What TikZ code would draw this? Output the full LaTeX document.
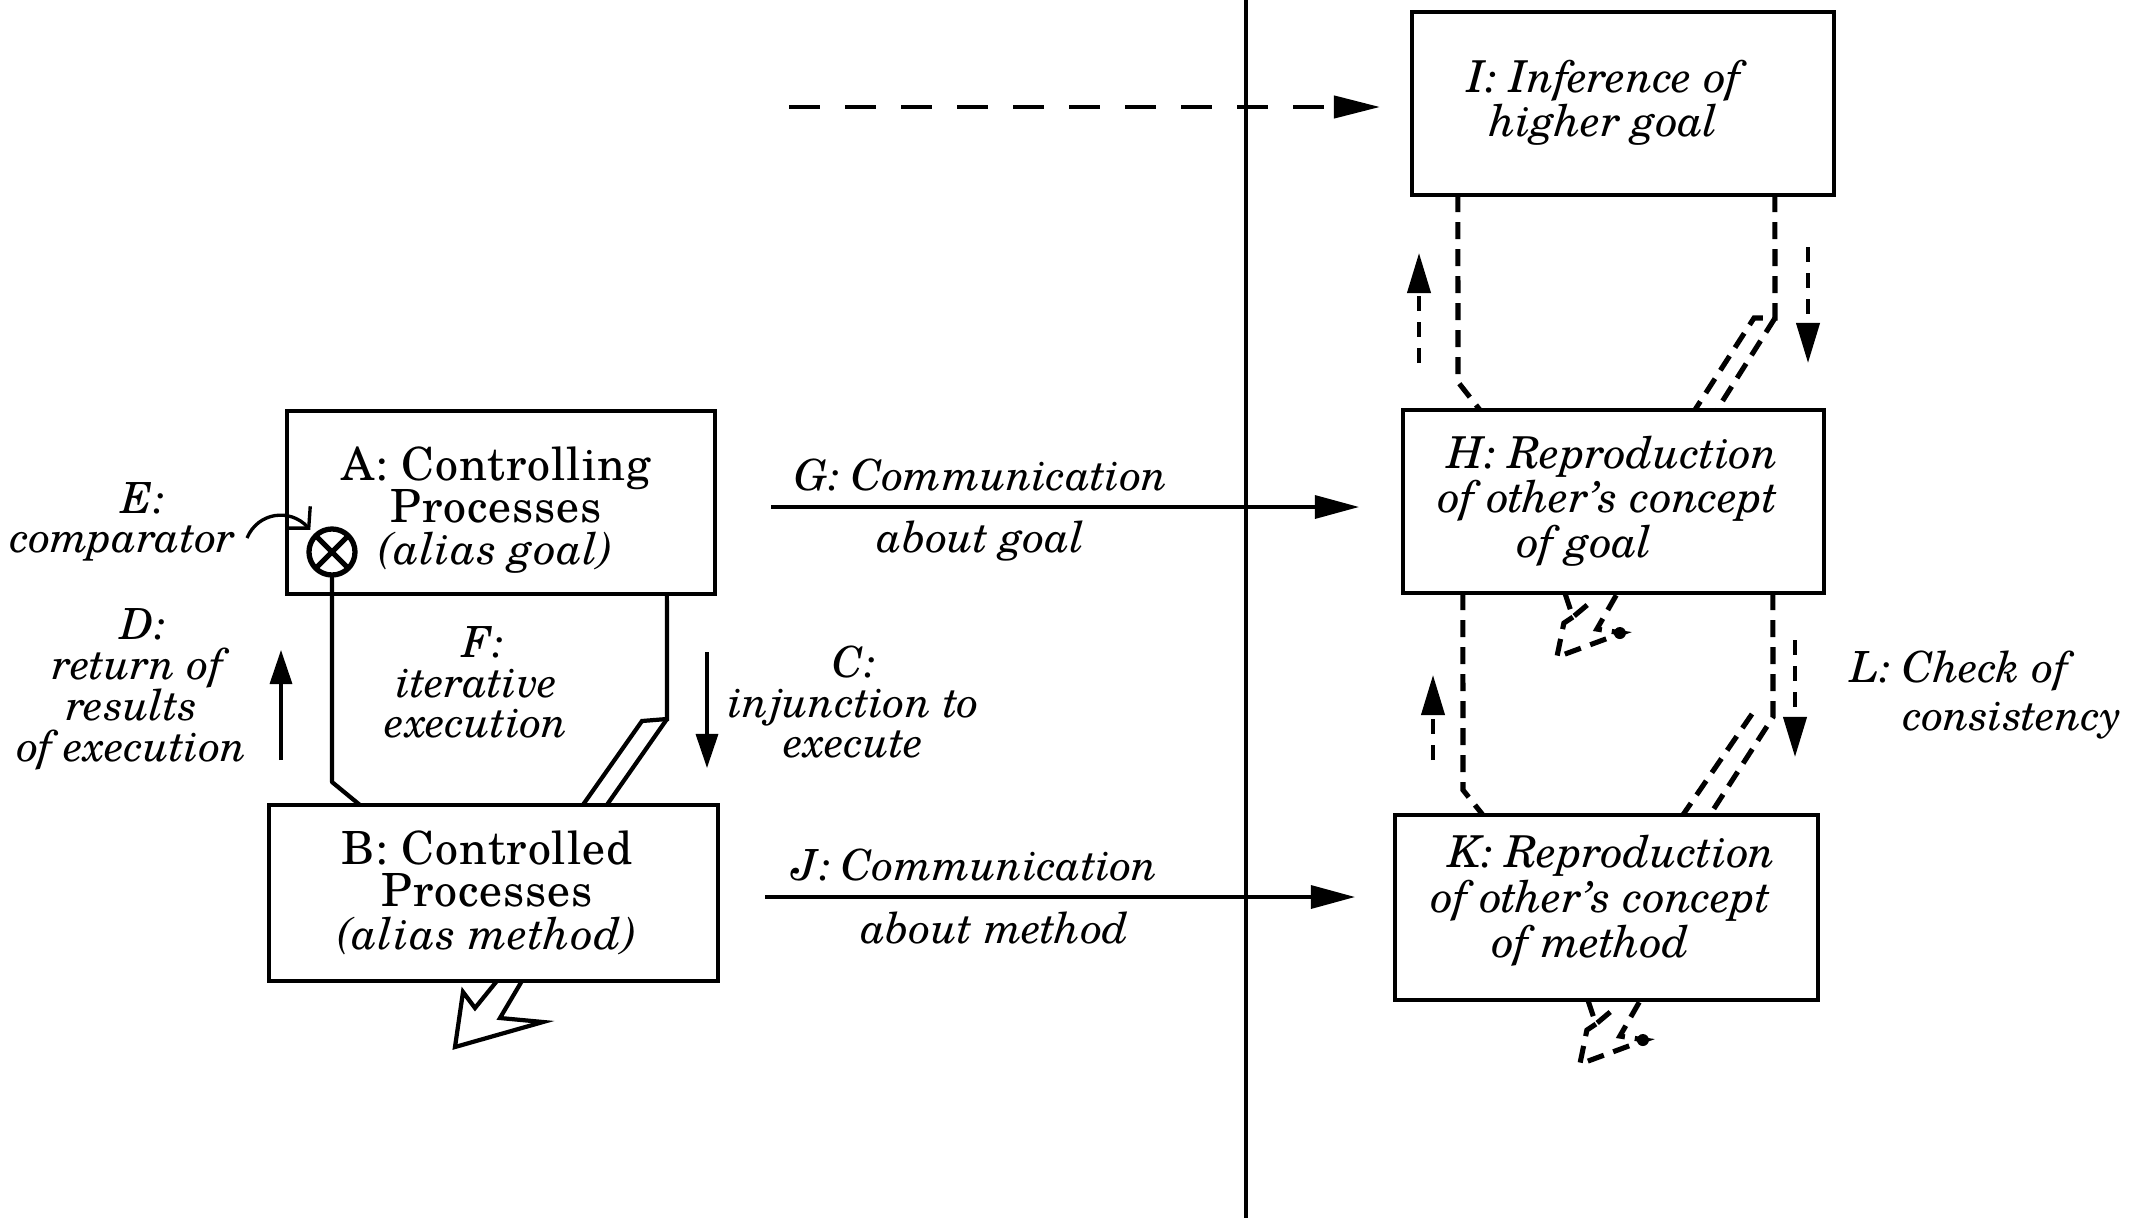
\documentclass[tikz,border=0pt]{standalone}
\usepackage{fontspec}
\setmainfont{TeX Gyre Schola}
\usetikzlibrary{arrows.meta,calc}
% centred / left-aligned line stacks with a fixed baseline distance;
% the baseline of the stack is the baseline of its last line
\newcommand\stackc[2]{\vbox{\baselineskip=#1\lineskiplimit=-\maxdimen\lineskip=0pt\halign{\hfil##\hfil\cr#2\crcr}}}
\newcommand\stackl[2]{\vbox{\baselineskip=#1\lineskiplimit=-\maxdimen\lineskip=0pt\halign{##\hfil\cr#2\crcr}}}
\newcommand\boxit{\fontsize{12.5}{15}\selectfont\itshape}
\begin{document}
\begin{tikzpicture}[x=0.01cm, y=-0.01cm,
  every node/.style={inner sep=0pt, outer sep=0pt},
  box/.style={draw, line width=1.3pt, rectangle},
  up/.style={font=\fontsize{13}{15}\selectfont\addfontfeatures{LetterSpace=2}},
  it/.style={font=\fontsize{12.2}{15}\selectfont\itshape},
  bit/.style={font=\boxit},
  conn/.style={line width=1.2pt},
  arr/.style={line width=0.9pt, -{Triangle[length=0.44cm,width=0.23cm]}},
  sarr/.style={line width=0.95pt, -{Triangle[length=0.34cm,width=0.22cm]}},
  dcon/.style={line width=1.45pt, dash pattern=on 0.17cm off 0.10cm},
  darr/.style={line width=1.15pt, dash pattern=on 0.15cm off 0.11cm, -{Triangle[length=0.40cm,width=0.23cm]}},
  longd/.style={line width=1.2pt, dash pattern=on 0.31cm off 0.25cm, -{Triangle[length=0.46cm,width=0.22cm]}},
  zigdash/.pic={
    \draw[dcon] (0,0) -- (8,24) -- (27,8);
    \draw[dcon] (8,24) -- (-1,30) -- (-8,64) -- (57,40) -- (32,36) -- (52,1);
    \fill (55,40) circle (6);
  }
]
\useasboundingbox (0,0) rectangle (2151,1218);

% dividing line between the two partners
\coordinate (vt) at (1246,0);
\coordinate (vb) at (1246,1218);
\draw[line width=1.2pt] (vt) -- (vb);

% boxes
\node[box, minimum width=4.28cm, minimum height=1.83cm] (A) at (501,502.5) {};
\node[box, minimum width=4.49cm, minimum height=1.76cm] (B) at (493.5,893) {};
\node[box, minimum width=4.22cm, minimum height=1.83cm] (I) at (1623,103.5) {};
\node[box, minimum width=4.21cm, minimum height=1.83cm] (H) at (1613.5,501.5) {};
\node[box, minimum width=4.23cm, minimum height=1.85cm] (K) at (1606.5,907.5) {};

% box texts
\node[up, anchor=base] (At) at (496,564) {\stackc{0.415cm}{A: Controlling\cr Processes\cr\boxit (alias goal)\cr}};
\node[up, anchor=base] (Bt) at (487,949) {\stackc{0.42cm}{B: Controlled\cr Processes\cr\boxit (alias method)\cr}};
\node[bit, anchor=base] (It) at (1604,136) {\stackc{0.435cm}{I: Inference of\cr higher goal\cr}};
\node[bit, anchor=base] (Ht) at (1608,557) {\stackc{0.44cm}{\kern0.1cm H: Reproduction\cr of other's concept\cr of goal\kern0.46cm\cr}};
\node[bit, anchor=base] (Kt) at (1601,957) {\stackc{0.445cm}{\kern0.22cm K: Reproduction\cr of other's concept\cr of method\kern0.2cm\cr}};

% inference arrow towards I
\coordinate (d0) at (789,107);
\coordinate (d1) at (1380,107);
\draw[longd] (d0) -- (d1);

% communication arrows
\coordinate (g0) at (771,507);
\coordinate (g1) at (1359,507);
\draw[arr] (g0) -- (g1);
\node[it, anchor=base] (Gl1) at (981,490) {G: Communication};
\node[it, anchor=base] (Gl2) at (981,552) {about goal};
\coordinate (j0) at (765,897);
\coordinate (j1) at (1355,897);
\draw[arr] (j0) -- (j1);
\node[it, anchor=base] (Jl1) at (975,880) {J: Communication};
\node[it, anchor=base] (Jl2) at (995,943) {about method};

% comparator
\node[draw, circle, line width=1.5pt, minimum size=0.46cm] (cmp) at (332,552) {};
\draw[line width=1.5pt] (cmp.north west) -- (cmp.south east) (cmp.north east) -- (cmp.south west);
\coordinate (e0) at (247,538);
\draw[line width=0.95pt, shorten >=0.08cm, -{Straight Barb[length=0.15cm,width=0.32cm]}]
  (e0) .. controls (258,512) and (290,508) .. (cmp.north west);
\node[it, anchor=base] (El) at (123,552) {\stackc{0.385cm}{\kern0.40cm E:\cr comparator\cr}};

% loop between A and B
\draw[conn, line join=round] (cmp.south) -- (332,782) -- ($(B.north west)+(91,0)$);
\coordinate (r0) at ($(A.south west)+(380,0)$);
\coordinate (r1) at (667,719);
\coordinate (r2) at (642,721);
\draw[conn] (r0) -- (r1) -- (r2) -- ($(B.north west)+(314,0)$);
\draw[conn] (r1) -- ($(B.north west)+(338,0)$);
\node[it, anchor=base] (Fl) at (477,737) {\stackc{0.395cm}{\kern0.12cm F:\cr iterative\cr execution\cr}};

% return and injunction arrows
\coordinate (dd0) at (281,760);
\coordinate (dd1) at (281,650);
\draw[sarr] (dd0) -- (dd1);
\node[it, anchor=base] (Dl) at (132,761) {\stackc{0.405cm}{\kern0.22cm D:\cr\kern0.12cm return of\cr results\cr of execution\cr}};
\coordinate (cc0) at (707,652);
\coordinate (cc1) at (707,768);
\draw[sarr] (cc0) -- (cc1);
\node[it, anchor=base] (Cl) at (854,757) {\stackc{0.395cm}{C:\cr injunction to\cr execute\cr}};

% output of B
\draw[conn, line join=miter] ($(B.south west)+(228,0)$) -- (475,1008) -- (463,992) -- (455,1047)
  -- (543,1022) -- (500,1018) -- ($(B.south west)+(253,0)$);

% partner side: I <-> H
\draw[dcon] ($(I.south west)+(46,0)$) -- (1458,382) -- ($(H.north west)+(77,0)$);
\coordinate (ih0) at (1775,318);
\draw[dcon] ($(I.south west)+(363,0)$) -- (ih0) -- (1754,318) -- ($(H.north west)+(292,0)$);
\draw[dcon] (ih0) -- ($(H.north west)+(314,0)$);
\coordinate (u10) at (1419,363);
\coordinate (u11) at (1419,253);
\draw[darr] (u10) -- (u11);
\coordinate (w10) at (1808,247);
\coordinate (w11) at (1808,363);
\draw[darr] (w10) -- (w11);

% partner side: H <-> K
\draw[dcon] ($(H.south west)+(60,0)$) -- (1463,790) -- ($(K.north west)+(88,0)$);
\draw[dcon] ($(H.south west)+(370,0)$) -- (1773,717) -- ($(K.north west)+(315,0)$);
\draw[dcon] (1752,714) -- ($(K.north west)+(288,0)$);
\coordinate (u20) at (1433,760);
\coordinate (u21) at (1433,675);
\draw[darr] (u20) -- (u21);
\coordinate (w20) at (1795,640);
\coordinate (w21) at (1795,757);
\draw[darr] (w20) -- (w21);
\node[it, anchor=base west] (Ll) at (1850,730) {\stackl{0.47cm}{L: Check of\cr\kern0.53cm consistency\cr}};

% imagined outputs of H and K
\pic at ($(H.south west)+(162,0)$) {zigdash};
\pic at ($(K.south west)+(193,0)$) {zigdash};
\end{tikzpicture}
\end{document}
